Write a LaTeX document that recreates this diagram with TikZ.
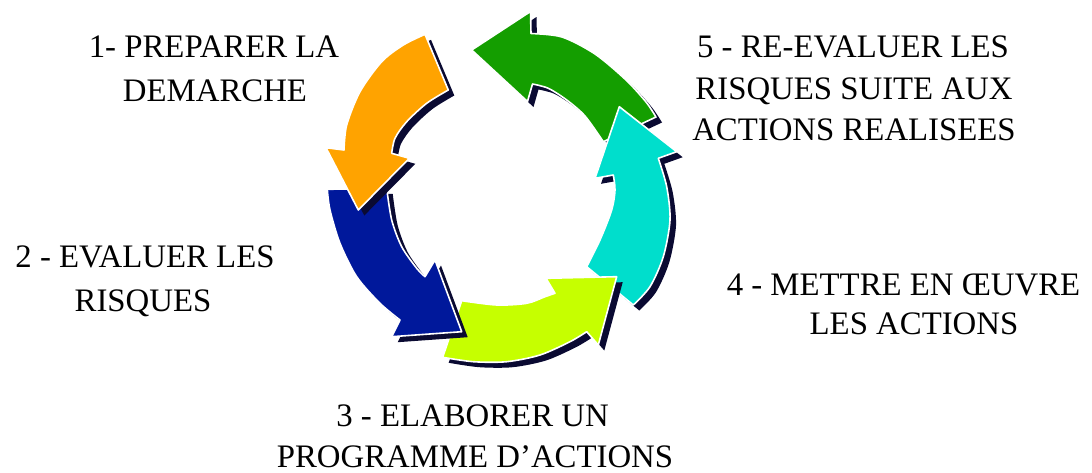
\documentclass[tikz,border=0pt]{standalone}
\usepackage{fontspec}
\setmainfont{Liberation Serif}
\definecolor{orangeA}{RGB}{255,163,0}
\definecolor{blueA}{RGB}{0,24,155}
\definecolor{limeA}{RGB}{198,255,0}
\definecolor{cyanA}{RGB}{0,222,204}
\definecolor{greenA}{RGB}{20,158,0}
\definecolor{shadowA}{RGB}{10,10,50}
\tikzset{
  lbl/.style={anchor=base, inner sep=0pt, font=\fontsize{24.6}{30}\selectfont},
  arrowbody/.style={draw=white, line width=1.2pt, line join=round},
  arrowshadow/.style={fill=shadowA, shift={(6,5.5)}}
}
\newcommand\cyclearrow[2]{\fill[arrowshadow] #2; \filldraw[arrowbody, fill=#1] #2;}
\begin{document}
\begin{tikzpicture}[x=0.75pt,y=-0.75pt]
\useasboundingbox (0,0) rectangle (1092,472);
\fill[white] (0,0) rectangle (1092,472);

% 5 - green
\cyclearrow{greenA}{(471.7,50) -- (530.5,11.5) -- (531,33.5)
  -- plot[smooth] coordinates {(531,33.5) (562,37) (595,54) (626,80) (646,102) (656,117)}
  -- (603.3,141.7)
  -- plot[smooth] coordinates {(603.3,141.7) (585,116) (566.7,100) (548.3,88.3) (532.5,84)}
  -- (527.5,101.5) -- cycle}

% 4 - cyan
\cyclearrow{cyanA}{(633.3,305) -- (586.7,266.7)
  -- plot[smooth] coordinates {(586.7,266.7) (600,240) (611.7,210) (615,190) (613.3,175)}
  -- (595,178.3) -- (619.3,106.7) -- (676.7,151.7) -- (658.3,158.3)
  -- plot[smooth] coordinates {(658.3,158.3) (666.7,186.7) (670,220) (663.3,256.7) (650,286.7) (633.3,305)}
  -- cycle}

% 3 - lime
\cyclearrow{limeA}{(442.7,357.3) -- (461.7,300.7)
  -- plot[smooth] coordinates {(461.7,300.7) (496.7,305) (526.7,303.3) (545,296.7) (555,293.3)}
  -- (546,278.3) -- (616.7,276.7) -- (598.3,345) -- (586.7,331.7)
  -- plot[smooth] coordinates {(586.7,331.7) (570,341.7) (540,355) (506.7,361.7) (473.3,361.7) (442.7,357.3)}
  -- cycle}

% 2 - blue
\cyclearrow{blueA}{(327.3,189.3) -- (386.7,188.3)
  -- plot[smooth] coordinates {(386.7,188.3) (391.7,220) (401.7,246.7) (416.7,268.3) (425,276.7)}
  -- (435,260) -- (461.7,331.7) -- (391.7,336.7) -- (400,320)
  -- plot[smooth] coordinates {(400,320) (380,303.3) (356.7,276.7) (340,243.3) (330,210) (327.3,189.3)}
  -- cycle}

% 1 - orange
\cyclearrow{orangeA}{(425,34.3) -- (448.3,90)
  -- plot[smooth] coordinates {(448.3,90) (426.7,103.3) (406.7,121.7) (395,138.3) (391.7,153.3)}
  -- (409.3,158.3) -- (358.3,210) -- (326,147.7) -- (344,150)
  -- plot[smooth] coordinates {(344,150) (346.7,125) (360,91.7) (381.7,61.7) (403.3,45) (425,34.3)}
  -- cycle}

% labels
\node[lbl] (t1a) at (214,57.5) {1- PREPARER LA};
\node[lbl] (t1b) at (215,101) {DEMARCHE};
\node[lbl] (t2a) at (145,267.3) {2 - EVALUER LES};
\node[lbl] (t2b) at (143,311.5) {RISQUES};
\node[lbl] (t3a) at (472.5,426) {3 - ELABORER UN};
\node[lbl] (t3b) at (475,467) {PROGRAMME D’ACTIONS};
\node[lbl] (t4a) at (903.5,295) {4 - METTRE EN ŒUVRE};
\node[lbl] (t4b) at (914,334) {LES ACTIONS};
\node[lbl] (t5a) at (853,57.3) {5 - RE-EVALUER LES};
\node[lbl] (t5b) at (854,99.5) {RISQUES SUITE AUX};
\node[lbl] (t5c) at (854,140.5) {ACTIONS REALISEES};
\end{tikzpicture}
\end{document}
